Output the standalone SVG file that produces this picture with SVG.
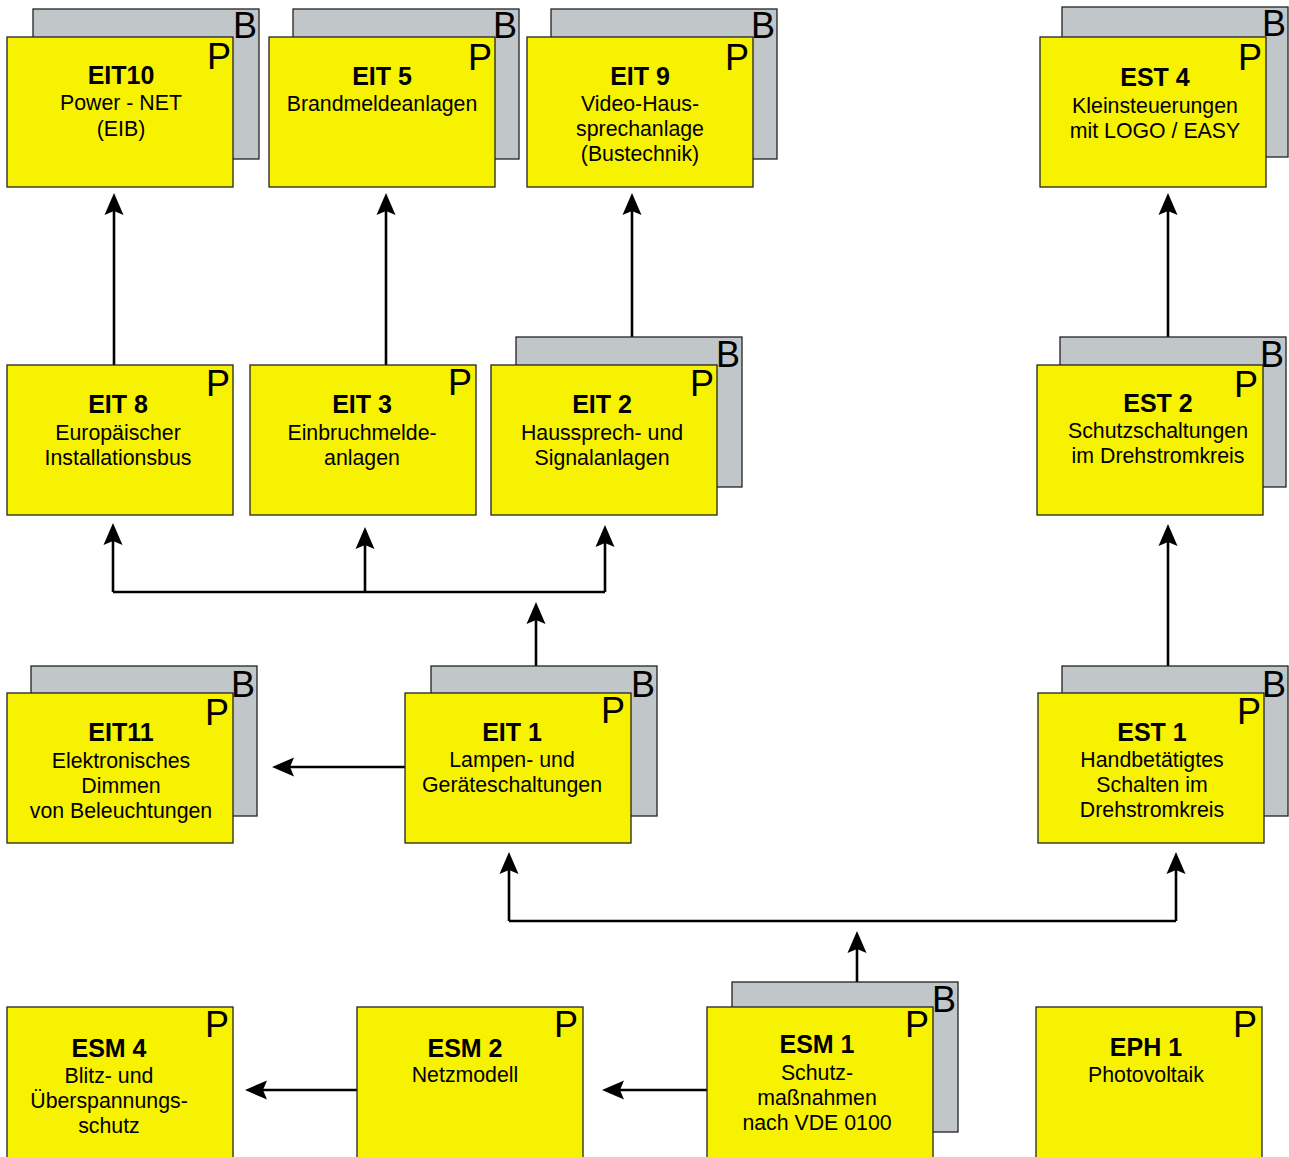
<svg xmlns="http://www.w3.org/2000/svg" width="1289" height="1157" viewBox="0 0 1289 1157">
  <style>
    .p { fill: #f7f200; stroke: #222; stroke-width: 1.3; }
    .b { fill: #c1c6c9; stroke: #222; stroke-width: 1.3; }
    text { font-family: "Liberation Sans", Arial, Helvetica, sans-serif; fill: #000; }
    .t { font-size: 25px; font-weight: bold; text-anchor: middle; }
    .d { font-size: 21.3px; text-anchor: middle; }
    .m { font-size: 36px; text-anchor: end; }
    .c { fill: none; stroke: #000; stroke-width: 2.6; marker-end: url(#ah); }
    .c0 { fill: none; stroke: #000; stroke-width: 2.6; }
  </style>
  <defs>
    <marker id="ah" markerUnits="userSpaceOnUse" viewBox="-8 -11 26 22" markerWidth="26" markerHeight="22" refX="0" refY="0" orient="auto">
      <path d="M16,0 L-6,-9.5 L-2,0 L-6,9.5 Z" fill="#000"/>
    </marker>
  </defs>

  <!-- connectors -->
  <g id="connectors">
    <path class="c" d="M114,365 V209"/>
    <path class="c" d="M386,365 V209"/>
    <path class="c" d="M632,337 V209"/>
    <path class="c" d="M1168,337 V209"/>
    <path class="c0" d="M113,592 H605"/>
    <path class="c" d="M113,592 V539"/>
    <path class="c" d="M365,592 V543"/>
    <path class="c" d="M605,592 V541"/>
    <path class="c" d="M536,666 V618"/>
    <path class="c" d="M405,767 H288"/>
    <path class="c0" d="M509,921 H1176"/>
    <path class="c" d="M509,921 V868"/>
    <path class="c" d="M1176,921 V868"/>
    <path class="c" d="M857,982 V947"/>
    <path class="c" d="M1168,666 V540"/>
    <path class="c" d="M707,1090 H618"/>
    <path class="c" d="M357,1090 H261"/>
  </g>

  <!-- row 1 -->
  <g id="EIT10">
    <rect class="b" x="33" y="9" width="226" height="150"/>
    <text class="m" x="257" y="38">B</text>
    <rect class="p" x="7" y="37" width="226" height="150"/>
    <text class="m" x="231" y="69">P</text>
    <text class="t" x="121" y="84">EIT10</text>
    <text class="d" x="121" y="110">Power - NET</text>
    <text class="d" x="121" y="136">(EIB)</text>
  </g>
  <g id="EIT5">
    <rect class="b" x="293" y="9" width="226" height="150"/>
    <text class="m" x="517" y="38">B</text>
    <rect class="p" x="269" y="37" width="226" height="150"/>
    <text class="m" x="492" y="70">P</text>
    <text class="t" x="382" y="85">EIT 5</text>
    <text class="d" x="382" y="111">Brandmeldeanlagen</text>
  </g>
  <g id="EIT9">
    <rect class="b" x="551" y="9" width="226" height="150"/>
    <text class="m" x="775" y="38">B</text>
    <rect class="p" x="527" y="37" width="226" height="150"/>
    <text class="m" x="749" y="70">P</text>
    <text class="t" x="640" y="85">EIT 9</text>
    <text class="d" x="640" y="111">Video-Haus-</text>
    <text class="d" x="640" y="136">sprechanlage</text>
    <text class="d" x="640" y="161">(Bustechnik)</text>
  </g>
  <g id="EST4">
    <rect class="b" x="1062" y="7" width="226" height="150"/>
    <text class="m" x="1286" y="36">B</text>
    <rect class="p" x="1040" y="37" width="226" height="150"/>
    <text class="m" x="1262" y="70">P</text>
    <text class="t" x="1155" y="86">EST 4</text>
    <text class="d" x="1155" y="113">Kleinsteuerungen</text>
    <text class="d" x="1155" y="138">mit LOGO / EASY</text>
  </g>

  <!-- row 2 -->
  <g id="EIT8">
    <rect class="p" x="7" y="365" width="226" height="150"/>
    <text class="m" x="230" y="396">P</text>
    <text class="t" x="118" y="413">EIT 8</text>
    <text class="d" x="118" y="440">Europäischer</text>
    <text class="d" x="118" y="465">Installationsbus</text>
  </g>
  <g id="EIT3">
    <rect class="p" x="250" y="365" width="226" height="150"/>
    <text class="m" x="472" y="395">P</text>
    <text class="t" x="362" y="413">EIT 3</text>
    <text class="d" x="362" y="440">Einbruchmelde-</text>
    <text class="d" x="362" y="465">anlagen</text>
  </g>
  <g id="EIT2">
    <rect class="b" x="516" y="337" width="226" height="150"/>
    <text class="m" x="740" y="367">B</text>
    <rect class="p" x="491" y="365" width="226" height="150"/>
    <text class="m" x="714" y="396">P</text>
    <text class="t" x="602" y="413">EIT 2</text>
    <text class="d" x="602" y="440">Haussprech- und</text>
    <text class="d" x="602" y="465">Signalanlagen</text>
  </g>
  <g id="EST2">
    <rect class="b" x="1060" y="337" width="226" height="150"/>
    <text class="m" x="1284" y="367">B</text>
    <rect class="p" x="1037" y="365" width="226" height="150"/>
    <text class="m" x="1258" y="397">P</text>
    <text class="t" x="1158" y="412">EST 2</text>
    <text class="d" x="1158" y="438">Schutzschaltungen</text>
    <text class="d" x="1158" y="463">im Drehstromkreis</text>
  </g>

  <!-- row 3 -->
  <g id="EIT11">
    <rect class="b" x="31" y="666" width="226" height="150"/>
    <text class="m" x="255" y="697">B</text>
    <rect class="p" x="7" y="693" width="226" height="150"/>
    <text class="m" x="229" y="725">P</text>
    <text class="t" x="121" y="741">EIT11</text>
    <text class="d" x="121" y="768">Elektronisches</text>
    <text class="d" x="121" y="793">Dimmen</text>
    <text class="d" x="121" y="818">von Beleuchtungen</text>
  </g>
  <g id="EIT1">
    <rect class="b" x="431" y="666" width="226" height="150"/>
    <text class="m" x="655" y="697">B</text>
    <rect class="p" x="405" y="693" width="226" height="150"/>
    <text class="m" x="625" y="723">P</text>
    <text class="t" x="512" y="741">EIT 1</text>
    <text class="d" x="512" y="767">Lampen- und</text>
    <text class="d" x="512" y="792">Geräteschaltungen</text>
  </g>
  <g id="EST1">
    <rect class="b" x="1062" y="666" width="226" height="150"/>
    <text class="m" x="1286" y="697">B</text>
    <rect class="p" x="1038" y="693" width="226" height="150"/>
    <text class="m" x="1261" y="724">P</text>
    <text class="t" x="1152" y="741">EST 1</text>
    <text class="d" x="1152" y="767">Handbetätigtes</text>
    <text class="d" x="1152" y="792">Schalten im</text>
    <text class="d" x="1152" y="817">Drehstromkreis</text>
  </g>

  <!-- row 4 -->
  <g id="ESM4">
    <rect class="p" x="7" y="1007" width="226" height="160"/>
    <text class="m" x="229" y="1037">P</text>
    <text class="t" x="109" y="1057">ESM 4</text>
    <text class="d" x="109" y="1083">Blitz- und</text>
    <text class="d" x="109" y="1108">Überspannungs-</text>
    <text class="d" x="109" y="1133">schutz</text>
  </g>
  <g id="ESM2">
    <rect class="p" x="357" y="1007" width="226" height="160"/>
    <text class="m" x="578" y="1037">P</text>
    <text class="t" x="465" y="1057">ESM 2</text>
    <text class="d" x="465" y="1082">Netzmodell</text>
  </g>
  <g id="ESM1">
    <rect class="b" x="732" y="982" width="226" height="150"/>
    <text class="m" x="956" y="1012">B</text>
    <rect class="p" x="707" y="1007" width="226" height="160"/>
    <text class="m" x="929" y="1037">P</text>
    <text class="t" x="817" y="1053">ESM 1</text>
    <text class="d" x="817" y="1080">Schutz-</text>
    <text class="d" x="817" y="1105">maßnahmen</text>
    <text class="d" x="817" y="1130">nach VDE 0100</text>
  </g>
  <g id="EPH1">
    <rect class="p" x="1036" y="1007" width="226" height="160"/>
    <text class="m" x="1257" y="1037">P</text>
    <text class="t" x="1146" y="1056">EPH 1</text>
    <text class="d" x="1146" y="1082">Photovoltaik</text>
  </g>
</svg>
